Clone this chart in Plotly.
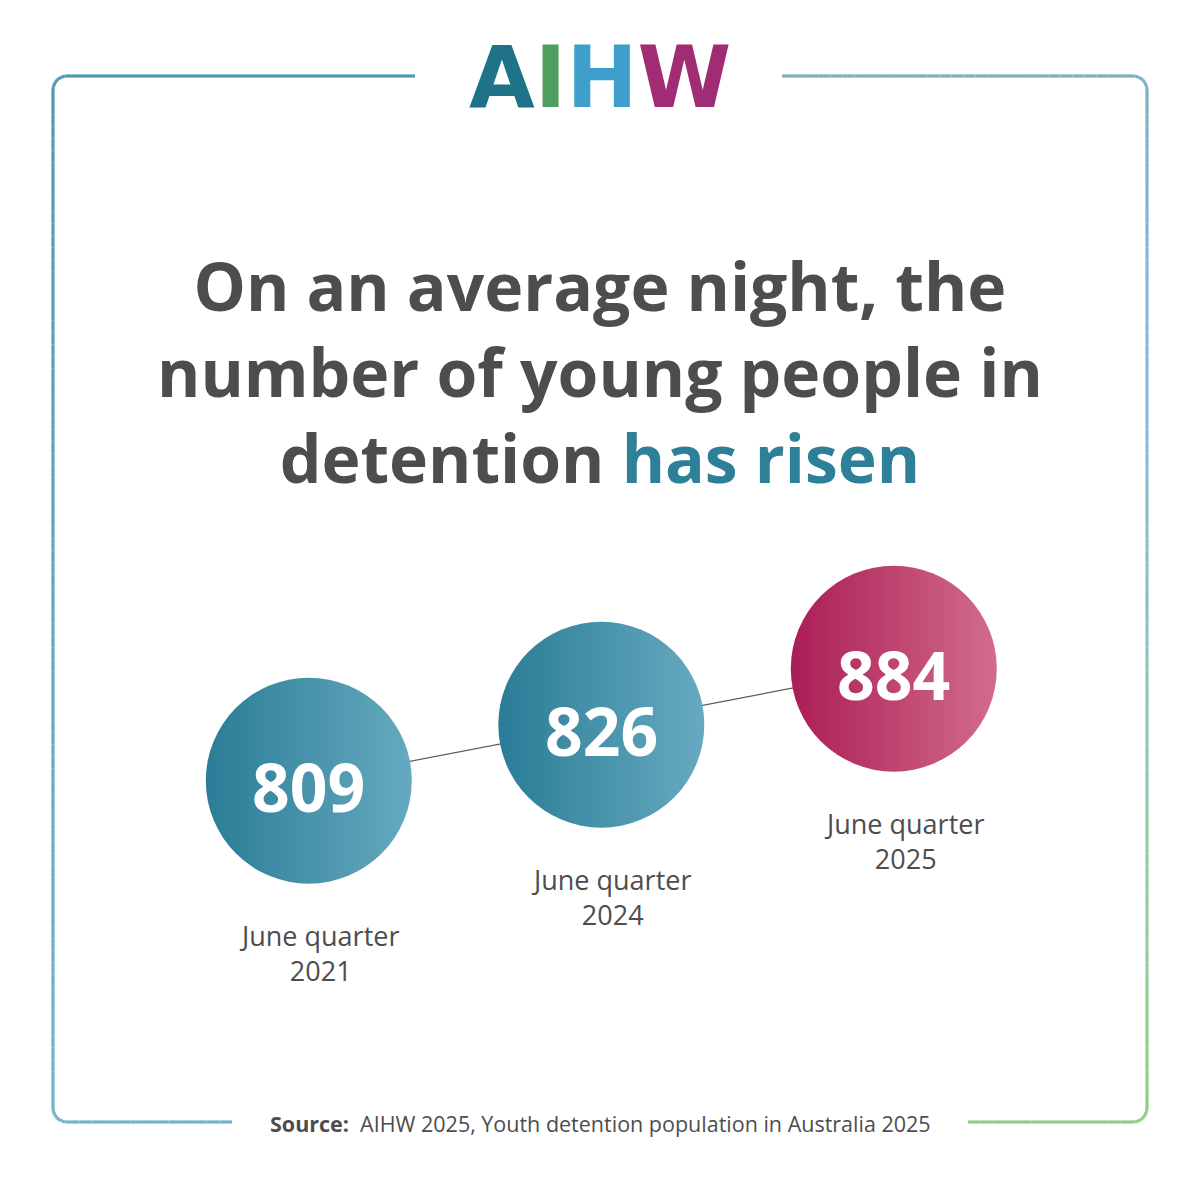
import math
import plotly.graph_objects as go

# ---------------- data ----------------
periods = ["June quarter 2021", "June quarter 2024", "June quarter 2025"]
period_labels = ["June quarter<br>2021", "June quarter<br>2024", "June quarter<br>2025"]
young_people = [809, 826, 884]

title_text = ("On an average night, the<br>"
              "number of young people in<br>"
              "detention <span style='color:#2e7f98'>has risen</span>")
source_text = "<b>Source:</b>  AIHW 2025, Youth detention population in Australia 2025"

# ---------------- styles ----------------
W = H = 1200
OFF = 8  # page body margin compensation
TEXT_GREY = "#4d4d4f"
TEAL_L, TEAL_R = "#2a7c96", "#66aac0"
PINK_L, PINK_R = "#aa1d55", "#d26c8c"

idx = list(range(len(periods)))
fill_left = [PINK_L if i == len(periods) - 1 else TEAL_L for i in idx]
fill_right = [PINK_R if i == len(periods) - 1 else TEAL_R for i in idx]


def px(x):
    return (x - OFF) / W


def py(y):
    return 1 - (y - OFF) / H


fig = go.Figure()

# connecting line
fig.add_trace(go.Scatter(
    x=idx, y=idx, mode="lines",
    line=dict(color="#5a5a5a", width=1.2),
    hoverinfo="skip"))

# circles
fig.add_trace(go.Scatter(
    x=idx, y=idx, mode="markers",
    marker=dict(size=206, color=fill_left,
                gradient=dict(type="horizontal", color=fill_right),
                line=dict(width=0)),
    customdata=list(zip(periods, young_people)),
    hovertemplate="%{customdata[0]}: %{customdata[1]}<extra></extra>"))

annotations = []
# values inside circles
for i, v in zip(idx, young_people):
    annotations.append(dict(
        x=i, y=i, xref="x", yref="y", text=str(v), showarrow=False,
        yshift=-5,
        font=dict(family="Open Sans", size=66, color="white", weight="bold")))

# period labels under the circles
for i, lab in zip(idx, period_labels):
    annotations.append(dict(
        x=i, y=i, xref="x", yref="y", text=lab, showarrow=False,
        xshift=10, yshift=-172, align="center",
        font=dict(family="Open Sans", size=27, color=TEXT_GREY)))

# title
annotations.append(dict(
    x=px(600), y=py(371), xref="paper", yref="paper", text=title_text,
    showarrow=False, xanchor="center", yanchor="middle", align="center",
    font=dict(family="Open Sans", size=66, color=TEXT_GREY, weight="bold")))

# logo text
logo = ("<span style='color:#1f7389'>A</span>"
        "<span style='color:#4e9f5e'>I</span>"
        "<span style='color:#3f9fcc'>H</span>"
        "<span style='color:#a02c74'>W</span>")
annotations.append(dict(
    x=px(600), y=py(77), xref="paper", yref="paper", text=logo,
    showarrow=False, xanchor="center", yanchor="middle",
    font=dict(family="DejaVu Sans", size=85, weight="bold")))

# source
annotations.append(dict(
    x=px(600), y=py(1123), xref="paper", yref="paper", text=source_text,
    showarrow=False, xanchor="center", yanchor="middle",
    font=dict(family="Open Sans", size=21.5, color=TEXT_GREY)))

# ---------------- border (gradient via short segments) ----------------
def hex2rgb(h):
    h = h.lstrip("#")
    return [int(h[i:i + 2], 16) for i in (0, 2, 4)]


def lerp_col(stops, t):
    for (t0, c0), (t1, c1) in zip(stops[:-1], stops[1:]):
        if t <= t1:
            f = 0 if t1 == t0 else (t - t0) / (t1 - t0)
            a, b = hex2rgb(c0), hex2rgb(c1)
            return "rgb(%d,%d,%d)" % tuple(round(a[j] + (b[j] - a[j]) * f) for j in range(3))
    return stops[-1][1]


L, R, T, B, RAD = 53, 1147, 76, 1122, 14


def arc(cx, cy, a0, a1, n=8):
    return [(cx + RAD * math.cos(math.radians(a0 + (a1 - a0) * s / n)),
             cy + RAD * math.sin(math.radians(a0 + (a1 - a0) * s / n))) for s in range(n + 1)]


def densify(pts, step=12):
    out = [pts[0]]
    for (x0, y0), (x1, y1) in zip(pts[:-1], pts[1:]):
        d = math.hypot(x1 - x0, y1 - y0)
        n = max(1, int(d // step))
        for s in range(1, n + 1):
            out.append((x0 + (x1 - x0) * s / n, y0 + (y1 - y0) * s / n))
    return out


left_pts = [(415, T), (L + RAD, T)] + arc(L + RAD, T + RAD, 270, 180)[1:] + \
           [(L, B - RAD)] + arc(L + RAD, B - RAD, 180, 90)[1:] + [(232, B)]
right_pts = [(782, T), (R - RAD, T)] + arc(R - RAD, T + RAD, 270, 360)[1:] + \
            [(R, B - RAD)] + arc(R - RAD, B - RAD, 0, 90)[1:] + [(968, B)]


def color_left(x, y):
    return lerp_col([(0, "#4e99b1"), (0.5, "#5fa6be"), (1, "#74b2ca")], (y - T) / (B - T))


def color_right(x, y):
    return lerp_col([(0, "#79b1c3"), (0.3, "#86bcdb"), (0.55, "#8fc1bf"),
                     (0.8, "#9acc9c"), (1, "#92ca86")], (y - T) / (B - T))


shapes = []
for pts, cf in ((left_pts, color_left), (right_pts, color_right)):
    dp = densify(pts)
    for (x0, y0), (x1, y1) in zip(dp[:-1], dp[1:]):
        col = cf((x0 + x1) / 2, (y0 + y1) / 2)
        shapes.append(dict(
            type="line", xref="paper", yref="paper",
            x0=px(x0), x1=px(x1), y0=py(y0), y1=py(y1),
            line=dict(color=col, width=3.2), layer="below"))

# axis ranges: category index -> figure pixel position
xa, xb = 300.8, 292.5      # fig px = xa + xb*i
ya, yb = 772.7, -56.0      # fig px from top = ya + yb*i
fig.update_layout(
    width=W, height=H, margin=dict(l=0, r=0, t=0, b=0),
    paper_bgcolor="white", plot_bgcolor="white", showlegend=False,
    xaxis=dict(visible=False, range=[-xa / xb, (W - xa) / xb], fixedrange=True),
    yaxis=dict(visible=False, range=[(H - ya) / yb, (0 - ya) / yb], fixedrange=True),
    annotations=annotations, shapes=shapes)

fig.write_html("out.html")
